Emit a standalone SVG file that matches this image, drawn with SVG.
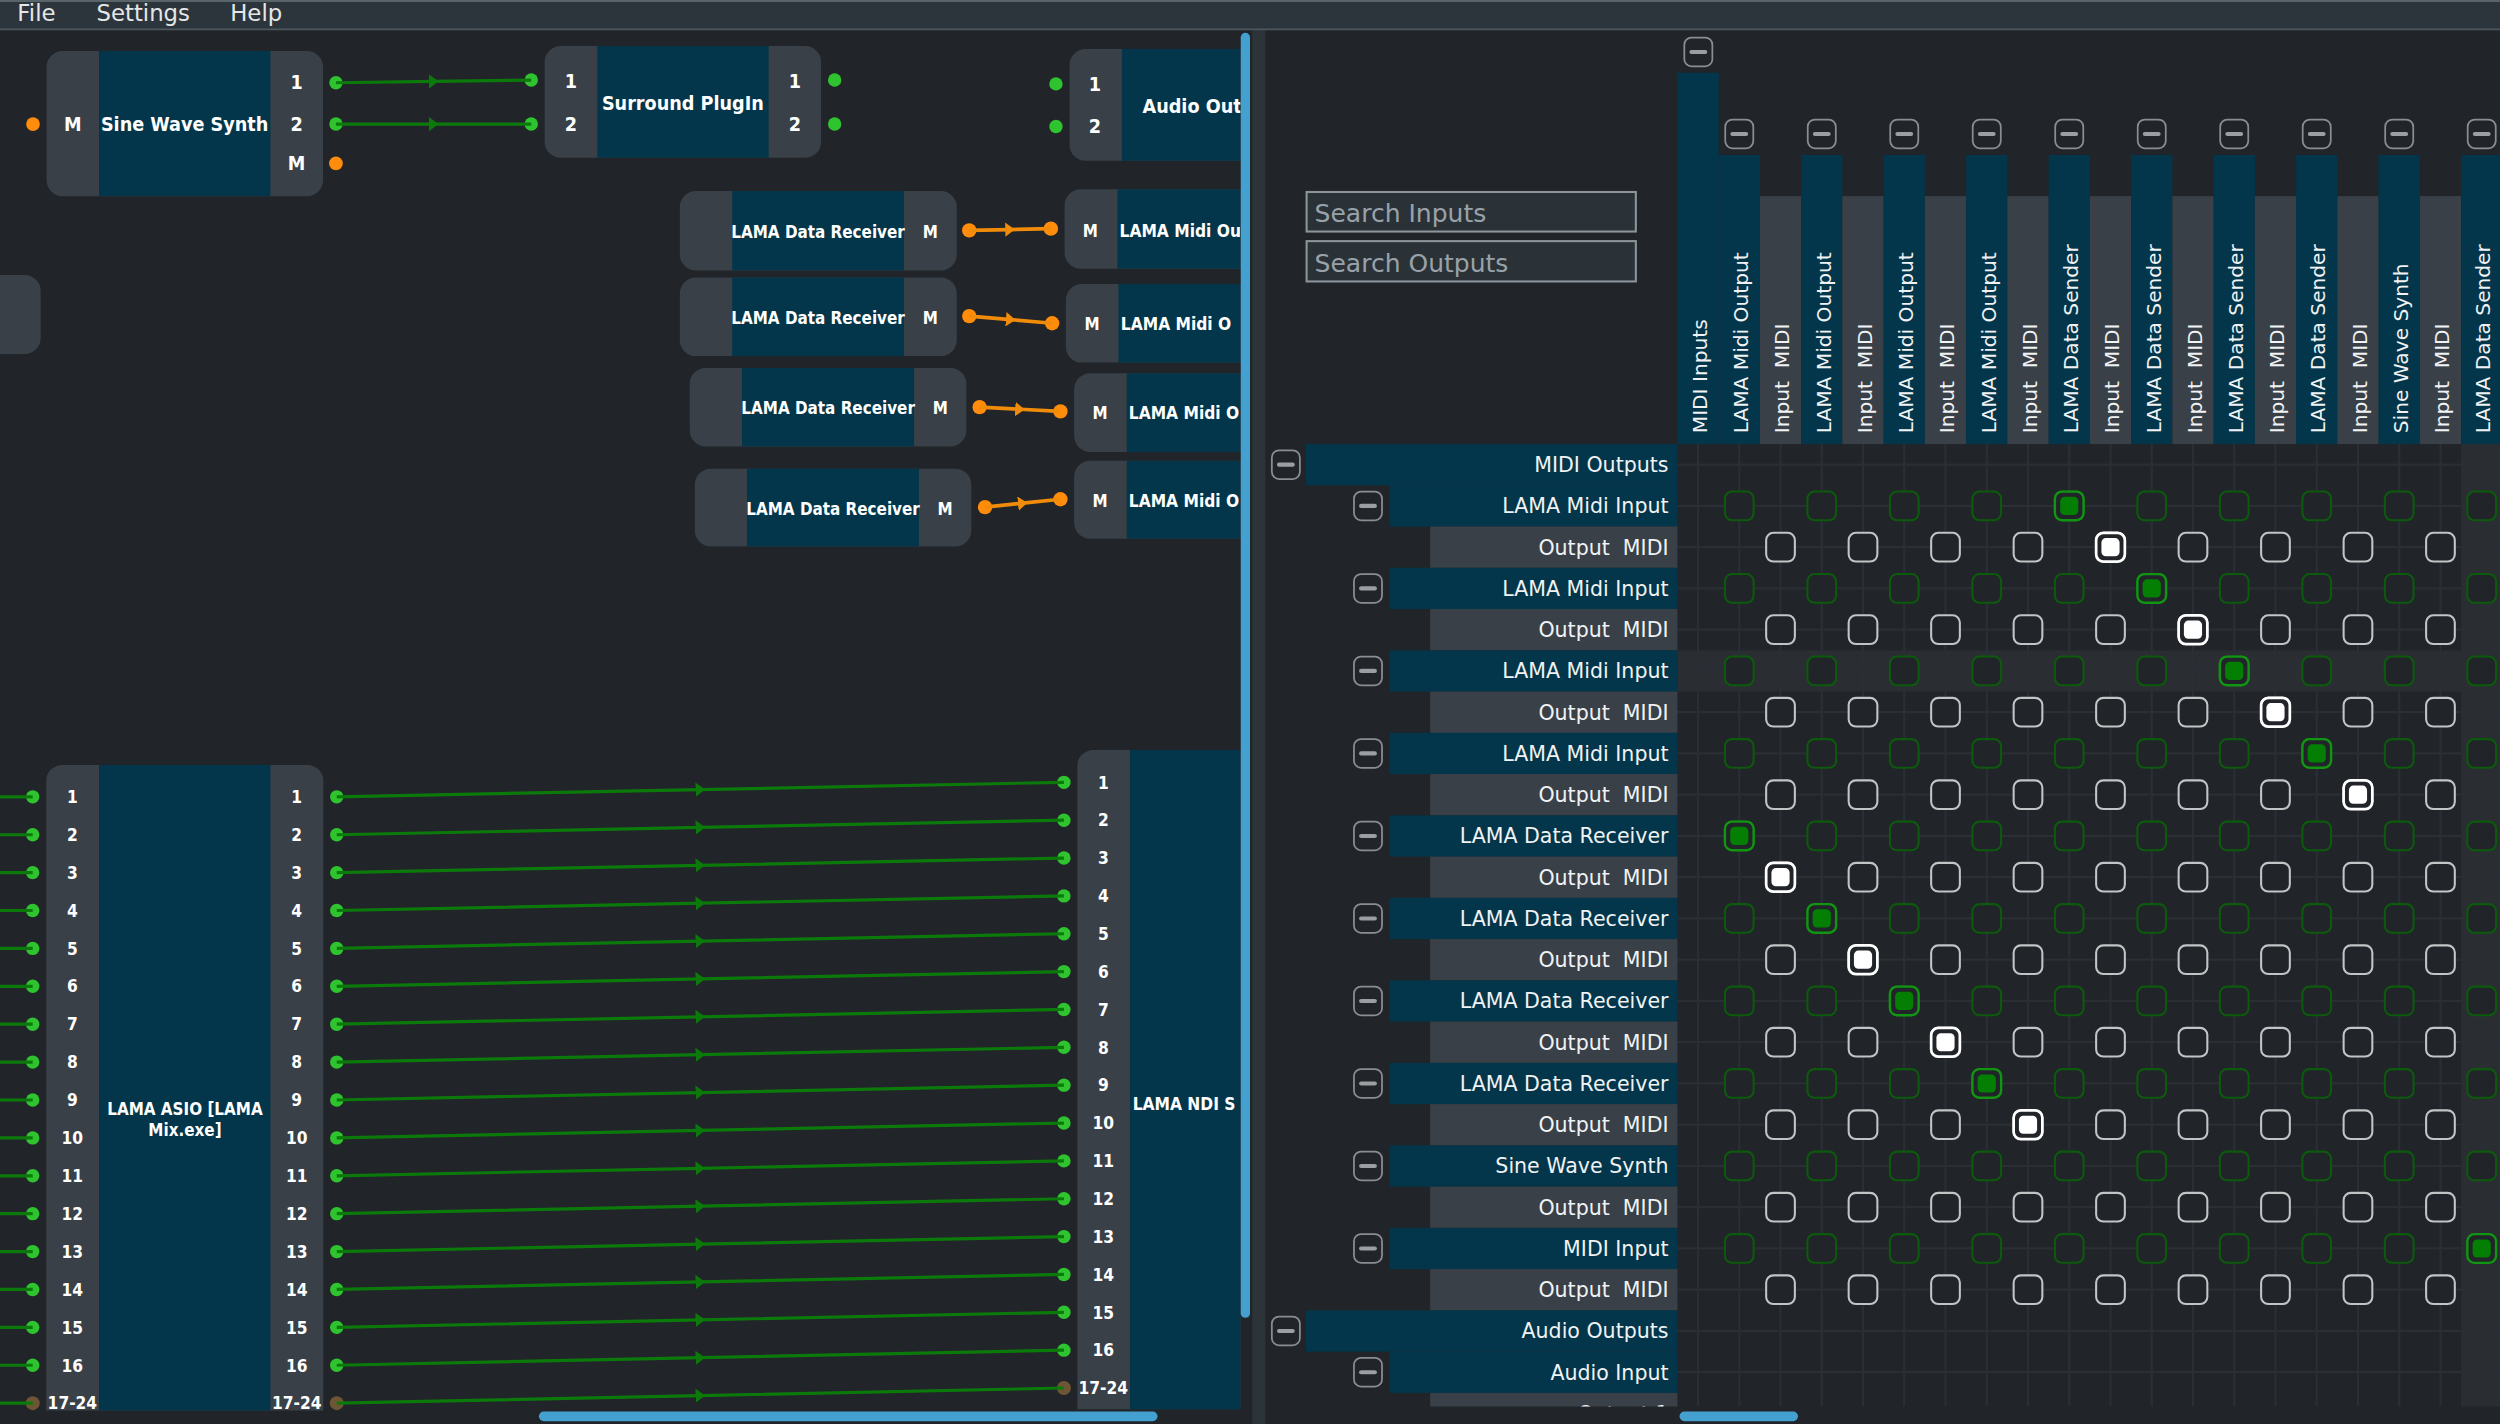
<svg xmlns="http://www.w3.org/2000/svg" xmlns:xlink="http://www.w3.org/1999/xlink" width="2500" height="1424" viewBox="0 0 2500 1424">
<defs>
<style>
.gs{fill:#3a4047}
.tl{fill:#03364a}
.nt{font-family:"DejaVu Sans Condensed","DejaVu Sans",sans-serif;font-weight:bold;fill:#ffffff;text-anchor:middle;font-size:12.3px}
.ns{font-family:"DejaVu Sans Condensed","DejaVu Sans",sans-serif;font-weight:bold;fill:#ffffff;text-anchor:middle;font-size:10.6px}
.nl{font-family:"DejaVu Sans Condensed","DejaVu Sans",sans-serif;font-weight:bold;fill:#ffffff;text-anchor:start;font-size:10.8px}
.bn{font-family:"DejaVu Sans Condensed","DejaVu Sans",sans-serif;font-weight:bold;fill:#ffffff;text-anchor:middle;font-size:10.8px}
.menu{font-family:"DejaVu Sans",sans-serif;fill:#e4e6e8;font-size:14.3px}
.hd text{font-family:"DejaVu Sans",sans-serif;fill:#f0f2f4;font-size:12.65px;white-space:pre}
.rl text{font-family:"DejaVu Sans",sans-serif;fill:#f0f2f4;font-size:12.9px;text-anchor:end;white-space:pre}
.st{font-family:"DejaVu Sans",sans-serif;fill:#9aa2a9;font-size:15.7px}
.sb{fill:#2a3238;stroke:#8d949a;stroke-width:1.3}
.gl{fill:none;stroke:#0b7a0b;stroke-width:2;stroke-linejoin:round;marker-mid:url(#ga)}
.gx{fill:none;stroke:#0b7a0b;stroke-width:2}
.ol{fill:none;stroke:#f08c0a;stroke-width:2.3;stroke-linejoin:round;marker-mid:url(#oa)}
.gd{fill:#2fc42f}
.od{fill:#ff8c0a}
.bd{fill:#6e5535}
.grid{stroke:#2a2f35;stroke-width:1.4}
.hl{fill:#2a2e33}
.sc{fill:#44a0cf}
</style>
<marker id="ga" viewBox="0 0 6 9" refX="3" refY="4.5" markerWidth="6" markerHeight="9" orient="auto" markerUnits="userSpaceOnUse"><path d="M0,0 L6,4.5 L0,9 z" fill="#0b7a0b"/></marker>
<marker id="oa" viewBox="0 0 6 9" refX="3" refY="4.5" markerWidth="6" markerHeight="9" orient="auto" markerUnits="userSpaceOnUse"><path d="M0,0 L6,4.5 L0,9 z" fill="#f08c0a"/></marker>
<clipPath id="cpL"><rect x="0" y="19" width="778" height="874"/></clipPath>
<clipPath id="cpR"><rect x="795" y="19" width="773" height="863"/></clipPath>
<g id="btn"><rect x="-8.8" y="-9" width="17.6" height="18" rx="4.5" fill="#212429" stroke="#8a8e92" stroke-width="1.1"/><rect x="-5.6" y="-1.3" width="11.2" height="2.6" rx="1.3" fill="#9c9fa2"/></g>
<rect id="gb" x="-9" y="-9" width="18" height="18" rx="4.5" fill="#212429" stroke="#0c5a0c" stroke-width="1.3"/>
<rect id="wb" x="-9" y="-9" width="18" height="18" rx="4.5" fill="#212429" stroke="#c2c4c6" stroke-width="1.3"/>
<g id="gon"><rect x="-9" y="-9" width="18" height="18" rx="4.5" fill="#212429" stroke="#129512" stroke-width="1.5"/><rect x="-5.7" y="-5.7" width="11.4" height="11.4" rx="2.8" fill="#047f04"/></g>
<g id="won"><rect x="-9" y="-9" width="18" height="18" rx="4.5" fill="#212429" stroke="#ffffff" stroke-width="1.7"/><rect x="-5.7" y="-5.7" width="11.4" height="11.4" rx="2.8" fill="#ffffff"/></g>
<g id="grow">
<use href="#gb" x="1090.87"/><use href="#gb" x="1142.61"/><use href="#gb" x="1194.35"/><use href="#gb" x="1246.09"/><use href="#gb" x="1297.83"/><use href="#gb" x="1349.57"/><use href="#gb" x="1401.31"/><use href="#gb" x="1453.05"/><use href="#gb" x="1504.79"/><use href="#gb" x="1556.53"/>
</g>
<g id="wrow">
<use href="#wb" x="1116.74"/><use href="#wb" x="1168.48"/><use href="#wb" x="1220.22"/><use href="#wb" x="1271.96"/><use href="#wb" x="1323.7"/><use href="#wb" x="1375.44"/><use href="#wb" x="1427.18"/><use href="#wb" x="1478.92"/><use href="#wb" x="1530.66"/>
</g>
</defs>
<rect width="2500" height="1424" fill="#212429"/>
<g transform="scale(1.594388 1.594625)">

<g id="left-panel" clip-path="url(#cpL)">
<g id="node-partial"><path d="M0,172.5 H15.5 a10,10 0 0 1 10,10 V212 a10,10 0 0 1 -10,10 H0 Z" class="gs"/></g>

<g id="node-sine-wave-synth">
<rect x="29.2" y="32" width="173.4" height="91" rx="10" class="gs"/>
<rect x="62.1" y="32" width="107.5" height="91" class="tl"/>
<text class="nt" x="45.6" y="82">M</text>
<text class="nt" x="115.8" y="82.2">Sine Wave Synth</text>
<text class="nt" x="186" y="56">1</text>
<text class="nt" x="186" y="81.9">2</text>
<text class="nt" x="186" y="106.6">M</text>
</g>

<g id="node-surround-plugin">
<rect x="341.6" y="28.9" width="173.4" height="70" rx="10" class="gs"/>
<rect x="374.6" y="28.9" width="107.5" height="70" class="tl"/>
<text class="nt" x="358" y="55.4">1</text>
<text class="nt" x="358" y="81.9">2</text>
<text class="nt" x="428.3" y="69.2">Surround PlugIn</text>
<text class="nt" x="498.5" y="55.4">1</text>
<text class="nt" x="498.5" y="81.9">2</text>
</g>

<g id="node-audio-out">
<rect x="670.8" y="30.7" width="140" height="70.1" rx="10" class="gs"/>
<rect x="703.6" y="30.7" width="110" height="70.1" class="tl"/>
<text class="nt" x="686.7" y="57.2">1</text>
<text class="nt" x="686.7" y="83.6">2</text>
<text class="nt" x="716.6" y="71" style="text-anchor:start">Audio Out</text>
</g>

<g id="node-receiver-1">
<rect x="426.4" y="119.8" width="173.7" height="49.8" rx="10" class="gs"/>
<rect x="459.2" y="119.8" width="107.8" height="49.8" class="tl"/>
<text class="ns" x="513.1" y="149.3">LAMA Data Receiver</text>
<text class="ns" x="583.5" y="149.3">M</text>
</g>
<g id="node-receiver-2">
<rect x="426.4" y="174" width="173.7" height="49.3" rx="10" class="gs"/>
<rect x="459.2" y="174" width="107.8" height="49.3" class="tl"/>
<text class="ns" x="513.1" y="203.2">LAMA Data Receiver</text>
<text class="ns" x="583.5" y="203.2">M</text>
</g>
<g id="node-receiver-3">
<rect x="432.6" y="230.7" width="173.5" height="49.3" rx="10" class="gs"/>
<rect x="465.4" y="230.7" width="107.9" height="49.3" class="tl"/>
<text class="ns" x="519.4" y="259.8">LAMA Data Receiver</text>
<text class="ns" x="589.7" y="259.8">M</text>
</g>
<g id="node-receiver-4">
<rect x="435.8" y="293.9" width="173.4" height="48.8" rx="10" class="gs"/>
<rect x="468.5" y="293.9" width="107.9" height="48.8" class="tl"/>
<text class="ns" x="522.5" y="323">LAMA Data Receiver</text>
<text class="ns" x="592.8" y="323">M</text>
</g>

<g id="node-midi-out-1">
<rect x="667.7" y="118.7" width="140" height="49.8" rx="10" class="gs"/>
<rect x="700.8" y="118.7" width="110" height="49.8" class="tl"/>
<text class="ns" x="683.8" y="148.4">M</text>
<text class="nl" x="702.2" y="148.4">LAMA Midi Ou</text>
</g>
<g id="node-midi-out-2">
<rect x="668.5" y="178.1" width="140" height="49.3" rx="10" class="gs"/>
<rect x="701.5" y="178.1" width="110" height="49.3" class="tl"/>
<text class="ns" x="684.9" y="207.2">M</text>
<text class="nl" x="703" y="207.2">LAMA Midi O</text>
</g>
<g id="node-midi-out-3">
<rect x="673.7" y="234.1" width="140" height="49.3" rx="10" class="gs"/>
<rect x="706.7" y="234.1" width="110" height="49.3" class="tl"/>
<text class="ns" x="690" y="263">M</text>
<text class="nl" x="708" y="263">LAMA Midi O</text>
</g>
<g id="node-midi-out-4">
<rect x="673.7" y="289" width="140" height="48.8" rx="10" class="gs"/>
<rect x="706.7" y="289" width="110" height="48.8" class="tl"/>
<text class="ns" x="690" y="318.1">M</text>
<text class="nl" x="708" y="318.1">LAMA Midi O</text>
</g>

<g id="node-lama-asio">
<path d="M29,884.5 V489.7 a10,10 0 0 1 10,-10 H192.8 a10,10 0 0 1 10,10 V884.5 Z" class="gs"/>
<rect x="62.1" y="479.7" width="107.5" height="404.8" class="tl"/>
<text class="ns" x="116" y="699.3">LAMA ASIO [LAMA</text>
<text class="ns" x="116" y="712.4">Mix.exe]</text>
<g class="bn">
<text x="45.4" y="503.6">1</text><text x="45.4" y="527.4">2</text><text x="45.4" y="551.1">3</text><text x="45.4" y="574.9">4</text><text x="45.4" y="598.7">5</text><text x="45.4" y="622.4">6</text><text x="45.4" y="646.2">7</text><text x="45.4" y="670">8</text><text x="45.4" y="693.7">9</text><text x="45.4" y="717.5">10</text><text x="45.4" y="741.2">11</text><text x="45.4" y="765">12</text><text x="45.4" y="788.8">13</text><text x="45.4" y="812.5">14</text><text x="45.4" y="836.3">15</text><text x="45.4" y="860.1">16</text><text x="45.4" y="883.8">17-24</text>
<text x="186.1" y="503.6">1</text><text x="186.1" y="527.4">2</text><text x="186.1" y="551.1">3</text><text x="186.1" y="574.9">4</text><text x="186.1" y="598.7">5</text><text x="186.1" y="622.4">6</text><text x="186.1" y="646.2">7</text><text x="186.1" y="670">8</text><text x="186.1" y="693.7">9</text><text x="186.1" y="717.5">10</text><text x="186.1" y="741.2">11</text><text x="186.1" y="765">12</text><text x="186.1" y="788.8">13</text><text x="186.1" y="812.5">14</text><text x="186.1" y="836.3">15</text><text x="186.1" y="860.1">16</text><text x="186.1" y="883.8">17-24</text>
</g>
</g>

<g id="node-lama-ndi">
<path d="M675.7,883.8 V480.3 a10,10 0 0 1 10,-10 H790 V883.8 Z" class="gs"/>
<rect x="708.7" y="470.3" width="80" height="413.5" class="tl"/>
<text class="nl" x="710.4" y="696.1">LAMA NDI S</text>
<g class="bn">
<text x="692" y="494.5">1</text><text x="692" y="518.2">2</text><text x="692" y="542">3</text><text x="692" y="565.7">4</text><text x="692" y="589.5">5</text><text x="692" y="613.2">6</text><text x="692" y="636.9">7</text><text x="692" y="660.7">8</text><text x="692" y="684.4">9</text><text x="692" y="708.2">10</text><text x="692" y="731.9">11</text><text x="692" y="755.6">12</text><text x="692" y="779.4">13</text><text x="692" y="803.1">14</text><text x="692" y="826.9">15</text><text x="692" y="850.6">16</text><text x="692" y="874.3">17-24</text>
</g>
</g>

<g id="ports">
<circle class="od" cx="20.7" cy="77.8" r="4.3"/>
<circle class="gd" cx="210.7" cy="51.9" r="4.2"/>
<circle class="gd" cx="210.7" cy="77.8" r="4.2"/>
<circle class="od" cx="210.7" cy="102.5" r="4.3"/>
<circle class="gd" cx="333.2" cy="50.2" r="4.2"/>
<circle class="gd" cx="333.2" cy="77.8" r="4.2"/>
<circle class="gd" cx="523.5" cy="50.2" r="4.2"/>
<circle class="gd" cx="523.5" cy="77.8" r="4.2"/>
<circle class="gd" cx="662.3" cy="52.6" r="4.2"/>
<circle class="gd" cx="662.3" cy="79.3" r="4.2"/>
<circle class="od" cx="607.9" cy="144.5" r="4.5"/>
<circle class="od" cx="659.1" cy="143.4" r="4.5"/>
<circle class="od" cx="607.9" cy="198.2" r="4.5"/>
<circle class="od" cx="659.9" cy="202.7" r="4.5"/>
<circle class="od" cx="614.4" cy="255.3" r="4.5"/>
<circle class="od" cx="665.1" cy="258" r="4.5"/>
<circle class="od" cx="617.8" cy="318" r="4.5"/>
<circle class="od" cx="665.1" cy="313.1" r="4.5"/>
<g class="gd">
<circle cx="20.5" cy="499.7" r="4.2"/><circle cx="20.5" cy="523.46" r="4.2"/><circle cx="20.5" cy="547.23" r="4.2"/><circle cx="20.5" cy="570.99" r="4.2"/><circle cx="20.5" cy="594.76" r="4.2"/><circle cx="20.5" cy="618.52" r="4.2"/><circle cx="20.5" cy="642.28" r="4.2"/><circle cx="20.5" cy="666.05" r="4.2"/><circle cx="20.5" cy="689.81" r="4.2"/><circle cx="20.5" cy="713.58" r="4.2"/><circle cx="20.5" cy="737.34" r="4.2"/><circle cx="20.5" cy="761.1" r="4.2"/><circle cx="20.5" cy="784.87" r="4.2"/><circle cx="20.5" cy="808.63" r="4.2"/><circle cx="20.5" cy="832.4" r="4.2"/><circle cx="20.5" cy="856.16" r="4.2"/>
<circle cx="211.2" cy="499.7" r="4.2"/><circle cx="211.2" cy="523.46" r="4.2"/><circle cx="211.2" cy="547.23" r="4.2"/><circle cx="211.2" cy="570.99" r="4.2"/><circle cx="211.2" cy="594.76" r="4.2"/><circle cx="211.2" cy="618.52" r="4.2"/><circle cx="211.2" cy="642.28" r="4.2"/><circle cx="211.2" cy="666.05" r="4.2"/><circle cx="211.2" cy="689.81" r="4.2"/><circle cx="211.2" cy="713.58" r="4.2"/><circle cx="211.2" cy="737.34" r="4.2"/><circle cx="211.2" cy="761.1" r="4.2"/><circle cx="211.2" cy="784.87" r="4.2"/><circle cx="211.2" cy="808.63" r="4.2"/><circle cx="211.2" cy="832.4" r="4.2"/><circle cx="211.2" cy="856.16" r="4.2"/>
<circle cx="667.3" cy="490.6" r="4.2"/><circle cx="667.3" cy="514.34" r="4.2"/><circle cx="667.3" cy="538.08" r="4.2"/><circle cx="667.3" cy="561.82" r="4.2"/><circle cx="667.3" cy="585.56" r="4.2"/><circle cx="667.3" cy="609.3" r="4.2"/><circle cx="667.3" cy="633.04" r="4.2"/><circle cx="667.3" cy="656.78" r="4.2"/><circle cx="667.3" cy="680.52" r="4.2"/><circle cx="667.3" cy="704.26" r="4.2"/><circle cx="667.3" cy="728" r="4.2"/><circle cx="667.3" cy="751.74" r="4.2"/><circle cx="667.3" cy="775.48" r="4.2"/><circle cx="667.3" cy="799.22" r="4.2"/><circle cx="667.3" cy="822.96" r="4.2"/><circle cx="667.3" cy="846.7" r="4.2"/>
</g>
<circle class="bd" cx="20.5" cy="879.92" r="4.4"/>
<circle class="bd" cx="211.2" cy="879.92" r="4.4"/>
<circle class="bd" cx="667.3" cy="870.44" r="4.4"/>
</g>

<g id="connectors">
<polyline class="gl" points="210.7,51.9 272,51.05 333.2,50.2"/>
<polyline class="gl" points="210.7,77.8 272,77.8 333.2,77.8"/>
<polyline class="ol" points="607.9,144.5 633.5,143.95 659.1,143.4"/>
<polyline class="ol" points="607.9,198.2 633.9,200.45 659.9,202.7"/>
<polyline class="ol" points="614.4,255.3 639.75,256.65 665.1,258"/>
<polyline class="ol" points="617.8,318 641.45,315.55 665.1,313.1"/>
<g class="gx">
<line x1="0" y1="499.7" x2="20.5" y2="499.7"/><line x1="0" y1="523.46" x2="20.5" y2="523.46"/><line x1="0" y1="547.23" x2="20.5" y2="547.23"/><line x1="0" y1="570.99" x2="20.5" y2="570.99"/><line x1="0" y1="594.76" x2="20.5" y2="594.76"/><line x1="0" y1="618.52" x2="20.5" y2="618.52"/><line x1="0" y1="642.28" x2="20.5" y2="642.28"/><line x1="0" y1="666.05" x2="20.5" y2="666.05"/><line x1="0" y1="689.81" x2="20.5" y2="689.81"/><line x1="0" y1="713.58" x2="20.5" y2="713.58"/><line x1="0" y1="737.34" x2="20.5" y2="737.34"/><line x1="0" y1="761.1" x2="20.5" y2="761.1"/><line x1="0" y1="784.87" x2="20.5" y2="784.87"/><line x1="0" y1="808.63" x2="20.5" y2="808.63"/><line x1="0" y1="832.4" x2="20.5" y2="832.4"/><line x1="0" y1="856.16" x2="20.5" y2="856.16"/><line x1="0" y1="879.92" x2="20.5" y2="879.92"/>
</g>
<polyline class="gl" points="211.2,499.7 439.25,495.15 667.3,490.6"/>
<polyline class="gl" points="211.2,523.46 439.25,518.9 667.3,514.34"/>
<polyline class="gl" points="211.2,547.23 439.25,542.66 667.3,538.08"/>
<polyline class="gl" points="211.2,570.99 439.25,566.41 667.3,561.82"/>
<polyline class="gl" points="211.2,594.76 439.25,590.16 667.3,585.56"/>
<polyline class="gl" points="211.2,618.52 439.25,613.91 667.3,609.3"/>
<polyline class="gl" points="211.2,642.28 439.25,637.66 667.3,633.04"/>
<polyline class="gl" points="211.2,666.05 439.25,661.42 667.3,656.78"/>
<polyline class="gl" points="211.2,689.81 439.25,685.17 667.3,680.52"/>
<polyline class="gl" points="211.2,713.58 439.25,708.92 667.3,704.26"/>
<polyline class="gl" points="211.2,737.34 439.25,732.67 667.3,728"/>
<polyline class="gl" points="211.2,761.1 439.25,756.42 667.3,751.74"/>
<polyline class="gl" points="211.2,784.87 439.25,780.18 667.3,775.48"/>
<polyline class="gl" points="211.2,808.63 439.25,803.93 667.3,799.22"/>
<polyline class="gl" points="211.2,832.4 439.25,827.68 667.3,822.96"/>
<polyline class="gl" points="211.2,856.16 439.25,851.43 667.3,846.7"/>
<polyline class="gl" points="211.2,879.92 439.25,875.18 667.3,870.44"/>
</g>
</g>

<g id="scrollbars">
<rect x="785.4" y="19" width="8.2" height="874" fill="#2d3439"/>
<rect class="sc" x="778.2" y="20.6" width="5.8" height="805.8" rx="2.9"/>
<rect class="sc" x="338" y="885.2" width="388" height="6" rx="3"/>
<rect class="sc" x="1053.4" y="885.2" width="74.3" height="6" rx="3"/>
</g>

<g id="right-panel" clip-path="url(#cpR)">
<g id="search">
<rect class="sb" x="819.5" y="120.4" width="206.5" height="24.8"/>
<text class="st" x="824.5" y="139.2">Search Inputs</text>
<rect class="sb" x="819.5" y="151.2" width="206.5" height="25.3"/>
<text class="st" x="824.5" y="170.3">Search Outputs</text>
</g>

<g id="column-headers">
<rect class="tl" x="1052.07" y="45.6" width="25.9" height="232.9"/>
<rect class="tl" x="1077.94" y="97.2" width="25.9" height="181.3"/>
<rect class="gs" x="1103.81" y="123" width="25.9" height="155.5"/>
<rect class="tl" x="1129.68" y="97.2" width="25.9" height="181.3"/>
<rect class="gs" x="1155.55" y="123" width="25.9" height="155.5"/>
<rect class="tl" x="1181.42" y="97.2" width="25.9" height="181.3"/>
<rect class="gs" x="1207.29" y="123" width="25.9" height="155.5"/>
<rect class="tl" x="1233.16" y="97.2" width="25.9" height="181.3"/>
<rect class="gs" x="1259.03" y="123" width="25.9" height="155.5"/>
<rect class="tl" x="1284.9" y="97.2" width="25.9" height="181.3"/>
<rect class="gs" x="1310.77" y="123" width="25.9" height="155.5"/>
<rect class="tl" x="1336.64" y="97.2" width="25.9" height="181.3"/>
<rect class="gs" x="1362.51" y="123" width="25.9" height="155.5"/>
<rect class="tl" x="1388.38" y="97.2" width="25.9" height="181.3"/>
<rect class="gs" x="1414.25" y="123" width="25.9" height="155.5"/>
<rect class="tl" x="1440.12" y="97.2" width="25.9" height="181.3"/>
<rect class="gs" x="1465.99" y="123" width="25.9" height="155.5"/>
<rect class="tl" x="1491.86" y="97.2" width="25.9" height="181.3"/>
<rect class="gs" x="1517.73" y="123" width="25.9" height="155.5"/>
<rect class="tl" x="1543.6" y="97.2" width="25.9" height="181.3"/>
<use href="#btn" x="1065.2" y="32.6"/>
<use href="#btn" x="1090.87" y="84"/><use href="#btn" x="1142.61" y="84"/><use href="#btn" x="1194.35" y="84"/><use href="#btn" x="1246.09" y="84"/><use href="#btn" x="1297.83" y="84"/><use href="#btn" x="1349.57" y="84"/><use href="#btn" x="1401.31" y="84"/><use href="#btn" x="1453.05" y="84"/><use href="#btn" x="1504.79" y="84"/><use href="#btn" x="1556.53" y="84"/>
<g class="hd">
<text xml:space="preserve" transform="translate(1070.5,271.7) rotate(-90)">MIDI Inputs</text>
<text xml:space="preserve" transform="translate(1096.37,271.7) rotate(-90)">LAMA Midi Output</text>
<text xml:space="preserve" transform="translate(1122.24,271.7) rotate(-90)">Input  MIDI</text>
<text xml:space="preserve" transform="translate(1148.11,271.7) rotate(-90)">LAMA Midi Output</text>
<text xml:space="preserve" transform="translate(1173.98,271.7) rotate(-90)">Input  MIDI</text>
<text xml:space="preserve" transform="translate(1199.85,271.7) rotate(-90)">LAMA Midi Output</text>
<text xml:space="preserve" transform="translate(1225.72,271.7) rotate(-90)">Input  MIDI</text>
<text xml:space="preserve" transform="translate(1251.59,271.7) rotate(-90)">LAMA Midi Output</text>
<text xml:space="preserve" transform="translate(1277.46,271.7) rotate(-90)">Input  MIDI</text>
<text xml:space="preserve" transform="translate(1303.33,271.7) rotate(-90)">LAMA Data Sender</text>
<text xml:space="preserve" transform="translate(1329.2,271.7) rotate(-90)">Input  MIDI</text>
<text xml:space="preserve" transform="translate(1355.07,271.7) rotate(-90)">LAMA Data Sender</text>
<text xml:space="preserve" transform="translate(1380.94,271.7) rotate(-90)">Input  MIDI</text>
<text xml:space="preserve" transform="translate(1406.81,271.7) rotate(-90)">LAMA Data Sender</text>
<text xml:space="preserve" transform="translate(1432.68,271.7) rotate(-90)">Input  MIDI</text>
<text xml:space="preserve" transform="translate(1458.55,271.7) rotate(-90)">LAMA Data Sender</text>
<text xml:space="preserve" transform="translate(1484.42,271.7) rotate(-90)">Input  MIDI</text>
<text xml:space="preserve" transform="translate(1510.29,271.7) rotate(-90)">Sine Wave Synth</text>
<text xml:space="preserve" transform="translate(1536.16,271.7) rotate(-90)">Input  MIDI</text>
<text xml:space="preserve" transform="translate(1562.03,271.7) rotate(-90)">LAMA Data Sender</text>
</g>
</g>

<g id="matrix">
<rect class="hl" x="1052" y="407.82" width="516" height="25.9"/>
<rect class="hl" x="1543.6" y="278.5" width="25" height="604"/>
<g class="grid">
<line x1="1065" y1="278.5" x2="1065" y2="882"/><line x1="1090.87" y1="278.5" x2="1090.87" y2="882"/><line x1="1116.74" y1="278.5" x2="1116.74" y2="882"/><line x1="1142.61" y1="278.5" x2="1142.61" y2="882"/><line x1="1168.48" y1="278.5" x2="1168.48" y2="882"/><line x1="1194.35" y1="278.5" x2="1194.35" y2="882"/><line x1="1220.22" y1="278.5" x2="1220.22" y2="882"/><line x1="1246.09" y1="278.5" x2="1246.09" y2="882"/><line x1="1271.96" y1="278.5" x2="1271.96" y2="882"/><line x1="1297.83" y1="278.5" x2="1297.83" y2="882"/><line x1="1323.7" y1="278.5" x2="1323.7" y2="882"/><line x1="1349.57" y1="278.5" x2="1349.57" y2="882"/><line x1="1375.44" y1="278.5" x2="1375.44" y2="882"/><line x1="1401.31" y1="278.5" x2="1401.31" y2="882"/><line x1="1427.18" y1="278.5" x2="1427.18" y2="882"/><line x1="1453.05" y1="278.5" x2="1453.05" y2="882"/><line x1="1478.92" y1="278.5" x2="1478.92" y2="882"/><line x1="1504.79" y1="278.5" x2="1504.79" y2="882"/><line x1="1530.66" y1="278.5" x2="1530.66" y2="882"/><line x1="1556.53" y1="278.5" x2="1556.53" y2="882"/>
<line x1="1052" y1="291.4" x2="1568" y2="291.4"/><line x1="1052" y1="317.27" x2="1568" y2="317.27"/><line x1="1052" y1="343.14" x2="1568" y2="343.14"/><line x1="1052" y1="369.01" x2="1568" y2="369.01"/><line x1="1052" y1="394.88" x2="1568" y2="394.88"/><line x1="1052" y1="420.75" x2="1568" y2="420.75"/><line x1="1052" y1="446.62" x2="1568" y2="446.62"/><line x1="1052" y1="472.49" x2="1568" y2="472.49"/><line x1="1052" y1="498.36" x2="1568" y2="498.36"/><line x1="1052" y1="524.23" x2="1568" y2="524.23"/><line x1="1052" y1="550.1" x2="1568" y2="550.1"/><line x1="1052" y1="575.97" x2="1568" y2="575.97"/><line x1="1052" y1="601.84" x2="1568" y2="601.84"/><line x1="1052" y1="627.71" x2="1568" y2="627.71"/><line x1="1052" y1="653.58" x2="1568" y2="653.58"/><line x1="1052" y1="679.45" x2="1568" y2="679.45"/><line x1="1052" y1="705.32" x2="1568" y2="705.32"/><line x1="1052" y1="731.19" x2="1568" y2="731.19"/><line x1="1052" y1="757.06" x2="1568" y2="757.06"/><line x1="1052" y1="782.93" x2="1568" y2="782.93"/><line x1="1052" y1="808.8" x2="1568" y2="808.8"/><line x1="1052" y1="834.67" x2="1568" y2="834.67"/><line x1="1052" y1="860.54" x2="1568" y2="860.54"/>
</g>
<use href="#grow" y="317.27"/><use href="#grow" y="369.01"/><use href="#grow" y="420.75"/><use href="#grow" y="472.49"/><use href="#grow" y="524.23"/><use href="#grow" y="575.97"/><use href="#grow" y="627.71"/><use href="#grow" y="679.45"/><use href="#grow" y="731.19"/><use href="#grow" y="782.93"/>
<use href="#wrow" y="343.14"/><use href="#wrow" y="394.88"/><use href="#wrow" y="446.62"/><use href="#wrow" y="498.36"/><use href="#wrow" y="550.1"/><use href="#wrow" y="601.84"/><use href="#wrow" y="653.58"/><use href="#wrow" y="705.32"/><use href="#wrow" y="757.06"/><use href="#wrow" y="808.8"/>
<use href="#gon" x="1297.83" y="317.27"/><use href="#gon" x="1349.57" y="369.01"/><use href="#gon" x="1401.31" y="420.75"/><use href="#gon" x="1453.05" y="472.49"/><use href="#gon" x="1090.87" y="524.23"/><use href="#gon" x="1142.61" y="575.97"/><use href="#gon" x="1194.35" y="627.71"/><use href="#gon" x="1246.09" y="679.45"/><use href="#gon" x="1556.53" y="782.93"/>
<use href="#won" x="1323.7" y="343.14"/><use href="#won" x="1375.44" y="394.88"/><use href="#won" x="1427.18" y="446.62"/><use href="#won" x="1478.92" y="498.36"/><use href="#won" x="1116.74" y="550.1"/><use href="#won" x="1168.48" y="601.84"/><use href="#won" x="1220.22" y="653.58"/><use href="#won" x="1271.96" y="705.32"/>
</g>

<g id="row-headers">
<rect class="tl" x="819" y="278.47" width="233.1" height="25.9"/>
<rect class="tl" x="871.5" y="304.34" width="180.6" height="25.9"/>
<rect class="gs" x="897" y="330.21" width="155.1" height="25.9"/>
<rect class="tl" x="871.5" y="356.08" width="180.6" height="25.9"/>
<rect class="gs" x="897" y="381.95" width="155.1" height="25.9"/>
<rect class="tl" x="871.5" y="407.82" width="180.6" height="25.9"/>
<rect class="gs" x="897" y="433.69" width="155.1" height="25.9"/>
<rect class="tl" x="871.5" y="459.56" width="180.6" height="25.9"/>
<rect class="gs" x="897" y="485.43" width="155.1" height="25.9"/>
<rect class="tl" x="871.5" y="511.3" width="180.6" height="25.9"/>
<rect class="gs" x="897" y="537.17" width="155.1" height="25.9"/>
<rect class="tl" x="871.5" y="563.04" width="180.6" height="25.9"/>
<rect class="gs" x="897" y="588.91" width="155.1" height="25.9"/>
<rect class="tl" x="871.5" y="614.78" width="180.6" height="25.9"/>
<rect class="gs" x="897" y="640.65" width="155.1" height="25.9"/>
<rect class="tl" x="871.5" y="666.52" width="180.6" height="25.9"/>
<rect class="gs" x="897" y="692.39" width="155.1" height="25.9"/>
<rect class="tl" x="871.5" y="718.26" width="180.6" height="25.9"/>
<rect class="gs" x="897" y="744.13" width="155.1" height="25.9"/>
<rect class="tl" x="871.5" y="770" width="180.6" height="25.9"/>
<rect class="gs" x="897" y="795.87" width="155.1" height="25.9"/>
<rect class="tl" x="819" y="821.74" width="233.1" height="25.9"/>
<rect class="tl" x="871.5" y="847.61" width="180.6" height="25.9"/>
<rect class="gs" x="897" y="873.48" width="155.1" height="25.9"/>
<use href="#btn" x="806.5" y="291.4"/><use href="#btn" x="806.5" y="834.67"/>
<use href="#btn" x="858" y="317.27"/><use href="#btn" x="858" y="369.01"/><use href="#btn" x="858" y="420.75"/><use href="#btn" x="858" y="472.49"/><use href="#btn" x="858" y="524.23"/><use href="#btn" x="858" y="575.97"/><use href="#btn" x="858" y="627.71"/><use href="#btn" x="858" y="679.45"/><use href="#btn" x="858" y="731.19"/><use href="#btn" x="858" y="782.93"/><use href="#btn" x="858" y="860.54"/>
<g class="rl">
<text x="1046.5" y="296">MIDI Outputs</text>
<text x="1046.5" y="321.87">LAMA Midi Input</text>
<text xml:space="preserve" x="1046.5" y="347.74">Output  MIDI</text>
<text x="1046.5" y="373.61">LAMA Midi Input</text>
<text xml:space="preserve" x="1046.5" y="399.48">Output  MIDI</text>
<text x="1046.5" y="425.35">LAMA Midi Input</text>
<text xml:space="preserve" x="1046.5" y="451.22">Output  MIDI</text>
<text x="1046.5" y="477.09">LAMA Midi Input</text>
<text xml:space="preserve" x="1046.5" y="502.96">Output  MIDI</text>
<text x="1046.5" y="528.83">LAMA Data Receiver</text>
<text xml:space="preserve" x="1046.5" y="554.7">Output  MIDI</text>
<text x="1046.5" y="580.57">LAMA Data Receiver</text>
<text xml:space="preserve" x="1046.5" y="606.44">Output  MIDI</text>
<text x="1046.5" y="632.31">LAMA Data Receiver</text>
<text xml:space="preserve" x="1046.5" y="658.18">Output  MIDI</text>
<text x="1046.5" y="684.05">LAMA Data Receiver</text>
<text xml:space="preserve" x="1046.5" y="709.92">Output  MIDI</text>
<text x="1046.5" y="735.79">Sine Wave Synth</text>
<text xml:space="preserve" x="1046.5" y="761.66">Output  MIDI</text>
<text x="1046.5" y="787.53">MIDI Input</text>
<text xml:space="preserve" x="1046.5" y="813.4">Output  MIDI</text>
<text x="1046.5" y="839.27">Audio Outputs</text>
<text x="1046.5" y="865.14">Audio Input</text>
<text x="1046.5" y="891">Output 1</text>
</g>
</g>
</g>

<g id="menubar">
<rect x="0" y="0" width="1568" height="18.8" fill="#2c353b"/>
<line x1="0" y1="0.6" x2="1568" y2="0.6" stroke="#59636a" stroke-width="1.2"/>
<line x1="0" y1="18.4" x2="1568" y2="18.4" stroke="#4d575e" stroke-width="1.2"/>
<text class="menu" x="10.9" y="13.2">File</text>
<text class="menu" x="60.5" y="13.2">Settings</text>
<text class="menu" x="144.4" y="13.2">Help</text>
</g>
</g>
</svg>
